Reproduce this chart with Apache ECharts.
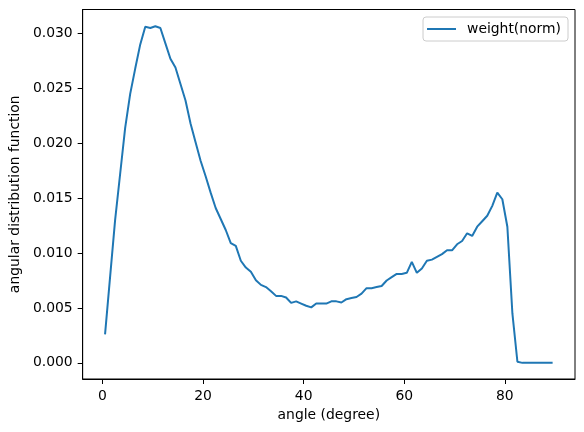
<!DOCTYPE html>
<html>
<head>
<meta charset="utf-8">
<script src="https://cdn.jsdelivr.net/npm/echarts@6/dist/echarts.min.js"></script>
<style>
  html, body { margin: 0; padding: 0; background: #fff; }
  #chart { width: 584px; height: 432px; }
</style>
</head>
<body>
<div id="chart"></div>
<script>
// angle bins (degree), one per bin centre
const angles = [];
for (let i = 0; i < 90; i++) angles.push(i + 0.5);

const weightNorm = [
  0.0026, 0.0078, 0.0130, 0.0172, 0.0214, 0.0245, 0.0268, 0.0290, 0.0306, 0.0305,
  0.03065, 0.0305, 0.0291, 0.0277, 0.0269, 0.0254, 0.0239, 0.0218, 0.0201, 0.0184,
  0.0170, 0.0155, 0.0141, 0.0131, 0.0121, 0.0109, 0.01065, 0.0093, 0.00868, 0.0083,
  0.00753, 0.0071, 0.0069, 0.00653, 0.0061, 0.0061, 0.00595, 0.00546, 0.0056, 0.0054,
  0.0052, 0.00505, 0.0054, 0.0054, 0.0054, 0.0056, 0.0056, 0.0055, 0.0058, 0.0059,
  0.0060, 0.0063, 0.0068, 0.0068, 0.0069, 0.0070, 0.0075, 0.0078, 0.0081, 0.0081,
  0.0082, 0.0092, 0.0082, 0.0086, 0.0093, 0.0094, 0.00965, 0.0099, 0.01025, 0.01025,
  0.0108, 0.0111, 0.0118, 0.01156, 0.0124, 0.0129, 0.0134, 0.0143, 0.0155, 0.0149,
  0.0124, 0.0045, 0.0001, 0, 0, 0, 0, 0, 0, 0
];

const xTicks = [0, 20, 40, 60, 80];
const yTicks = [0, 0.005, 0.010, 0.015, 0.020, 0.025, 0.030];

const font = "DejaVu Sans";
const chart = echarts.init(document.getElementById("chart"));

const option = {
  animation: false,
  textStyle: { fontFamily: font, color: "#000" },
  grid: {
    left: 80, right: 9, top: 9.5, bottom: 53,
    show: true, borderColor: "#000", borderWidth: 1
  },
  legend: {
    data: ["weight(norm)"],
    right: 16, top: 17,
    padding: [4, 7, 4, 4],
    borderColor: "#cccccc", borderWidth: 1, borderRadius: 3,
    backgroundColor: "#fff",
    icon: "rect",
    itemWidth: 29, itemHeight: 2,
    textStyle: { fontFamily: font, fontSize: 13.9, color: "#000", padding: [0, 0, 0, 6], lineHeight: 16 }
  },
  xAxis: {
    type: "value",
    min: -3.95, max: 93.95,
    name: "angle (degree)",
    nameLocation: "middle",
    nameGap: 29,
    nameTextStyle: { fontFamily: font, fontSize: 13.9, color: "#000" },
    splitLine: { show: false },
    axisLine: { show: true, onZero: false, lineStyle: { color: "#000", width: 1 } },
    axisTick: { show: true, length: 5, customValues: xTicks, lineStyle: { color: "#000" } },
    axisLabel: { customValues: xTicks, margin: 10, fontFamily: font, fontSize: 13.9, color: "#000" }
  },
  yAxis: {
    type: "value",
    min: -0.00147, max: 0.03218,
    name: "angular distribution function",
    nameLocation: "middle",
    nameGap: 56,
    nameTextStyle: { fontFamily: font, fontSize: 13.9, color: "#000" },
    splitLine: { show: false },
    axisLine: { show: true, onZero: false, lineStyle: { color: "#000", width: 1 } },
    axisTick: { show: true, length: 5, customValues: yTicks, lineStyle: { color: "#000" } },
    axisLabel: {
      customValues: yTicks, margin: 10, fontFamily: font, fontSize: 13.9, color: "#000",
      formatter: (v) => v.toFixed(3)
    }
  },
  series: [
    {
      name: "weight(norm)",
      type: "line",
      symbol: "none",
      data: angles.map((a, i) => [a, weightNorm[i]]),
      lineStyle: { color: "#1f77b4", width: 2 },
      itemStyle: { color: "#1f77b4" }
    }
  ]
};
chart.setOption(option);
</script>
</body>
</html>
